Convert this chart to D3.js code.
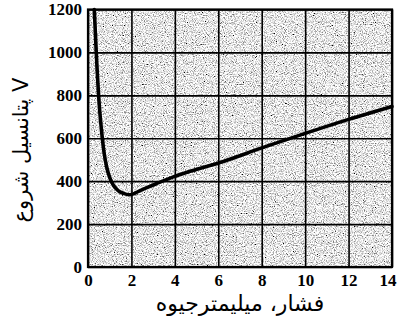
<!DOCTYPE html>
<html>
<head>
<meta charset="utf-8">
<script src="https://cdn.jsdelivr.net/npm/d3@7"></script>
<style>
  html, body { margin: 0; padding: 0; background: #fff; }
  svg { display: block; }
  .tick text { font-family: "Liberation Serif", serif !important; }
</style>
</head>
<body>
<svg id="chart" width="397" height="326"></svg>
<script>
// ---- data ----
const pressure = [0.29, 0.38, 0.51, 0.66, 0.73, 0.86, 1.01, 1.17, 1.4, 1.63, 1.93, 2.4, 3.16, 3.93, 4.7, 6.23, 8, 10.07, 12, 14];
const voltage  = [1200, 1000, 767, 600, 540, 466, 414, 381, 355, 343, 337, 356, 389, 420, 446, 492, 555, 625, 688, 748];
const xTicks = [0, 2, 4, 6, 8, 10, 12, 14];
const yTicks = [0, 200, 400, 600, 800, 1000, 1200];
const xTitle = "فشار، میلیمترجیوه";
const yTitle = "پتانسیل شروع V";

const svg = d3.select("#chart");
const L = 88, R = 392, T = 9.5, B = 267;

const x = d3.scaleLinear().domain([0, 14]).range([L, R]);
const y = d3.scaleLinear().domain([0, 1200]).range([B, T]);

// textured grey background
const defs = svg.append("defs");
const f = defs.append("filter").attr("id", "noise")
  .attr("x", 0).attr("y", 0).attr("width", 1).attr("height", 1);
f.append("feTurbulence").attr("type", "fractalNoise").attr("baseFrequency", 0.9)
  .attr("numOctaves", 2).attr("seed", 7).attr("result", "t");
f.append("feColorMatrix").attr("in", "t").attr("type", "matrix")
  .attr("values", "2.5 0 0 0 -0.45  2.5 0 0 0 -0.45  2.5 0 0 0 -0.45  0 0 0 0 1");

svg.append("rect").attr("x", L).attr("y", T).attr("width", R - L).attr("height", B - T)
  .attr("fill", "#b0b0b0").attr("filter", "url(#noise)");

const tickFont = "Liberation Serif";

// axes with grid
const gx = svg.append("g").attr("transform", `translate(0,${B})`)
  .call(d3.axisBottom(x).tickValues(xTicks).tickSizeInner(-(B - T)).tickSizeOuter(0).tickPadding(7).tickFormat(d3.format("d")));
const gy = svg.append("g").attr("transform", `translate(${L},0)`)
  .call(d3.axisLeft(y).tickValues(yTicks).tickSizeInner(-(R - L)).tickSizeOuter(0).tickPadding(6).tickFormat(d3.format("d")));

[gx, gy].forEach(g => {
  g.attr("font-family", tickFont).attr("font-size", 17).attr("font-weight", "bold");
  g.select(".domain").remove();
  g.selectAll(".tick line").attr("stroke", "#000").attr("stroke-width", 1.6);
  g.selectAll(".tick text").attr("fill", "#000");
});
// keep the last x label inside the picture
gx.selectAll(".tick text").filter(d => d === 14).attr("text-anchor", "end").attr("x", 396 - x(14));

// frame
svg.append("rect").attr("x", L).attr("y", T).attr("width", R - L).attr("height", B - T)
  .attr("fill", "none").attr("stroke", "#000").attr("stroke-width", 2.2);

// curve
const pts = pressure.map((p, i) => [p, voltage[i]]);
svg.append("path").datum(pts)
  .attr("fill", "none").attr("stroke", "#000").attr("stroke-width", 3.6)
  .attr("stroke-linecap", "round")
  .attr("d", d3.line().x(d => x(d[0])).y(d => y(d[1])).curve(d3.curveMonotoneX));

// titles
svg.append("text").attr("x", 240).attr("y", 311).attr("text-anchor", "middle")
  .style("font-family", "'DejaVu Sans', sans-serif").style("font-size", "22px").attr("fill", "#000")
  .text(xTitle);
svg.append("text").attr("transform", "translate(28,150) rotate(-90)").attr("text-anchor", "middle")
  .style("font-family", "'DejaVu Sans', sans-serif").style("font-size", "21px").attr("fill", "#000")
  .text(yTitle);
</script>
</body>
</html>
